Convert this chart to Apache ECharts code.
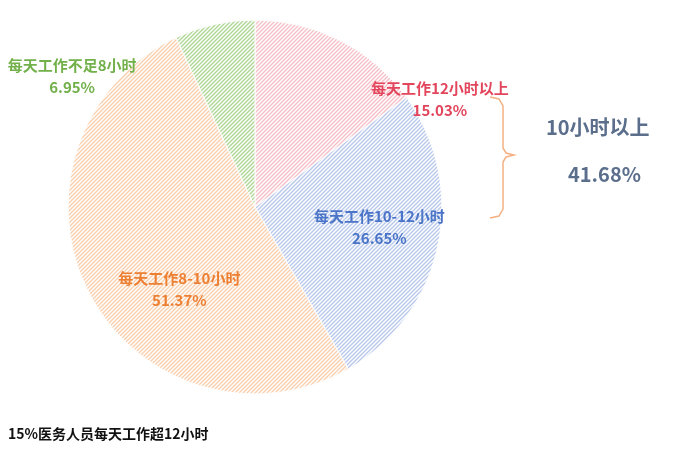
<!DOCTYPE html>
<html><head><meta charset="utf-8">
<script src="https://cdn.jsdelivr.net/npm/echarts@6/dist/echarts.min.js"></script>
<style>html,body{margin:0;background:#fff}#c{width:698px;height:457px}</style>
</head><body><div id="c"></div>
<script>
var names = ['每天工作12小时以上', '每天工作10-12小时', '每天工作8-10小时', '每天工作不足8小时'];
var values = [15.03, 26.65, 51.37, 6.95];
var fills = ['#f6bfc7', '#b7c8ea', '#f9cfae', '#aed795'];
var textColors = ['#e2455c', '#4a74c8', '#ec7f32', '#72b04a'];
var offsets = [[141, -22], [30, 0], [10, 38], [-162, -36]];

function stripe(color) {
  var c = document.createElement('canvas');
  c.width = 4; c.height = 4;
  var g = c.getContext('2d');
  g.fillStyle = '#ffffff'; g.fillRect(0, 0, 4, 4);
  g.strokeStyle = color; g.lineWidth = 1.4;
  g.beginPath();
  g.moveTo(0, 4); g.lineTo(4, 0);
  g.moveTo(-1, 1); g.lineTo(1, -1);
  g.moveTo(3, 5); g.lineTo(5, 3);
  g.stroke();
  return { image: c, repeat: 'repeat' };
}

var myChart = echarts.init(document.getElementById('c'));
var option = {
  backgroundColor: '#fff',
  series: [{
    type: 'pie',
    center: [255, 207],
    radius: [0, 187],
    startAngle: 90,
    clockwise: true,
    silent: true,
    itemStyle: { borderColor: '#fff', borderWidth: 1 },
    label: {
      show: true, position: 'inside', fontSize: 15, fontWeight: 'bold', lineHeight: 22,
      fontFamily: 'Noto Sans CJK SC',
      formatter: function (p) { return p.name + '\n' + p.value.toFixed(2) + '%'; }
    },
    data: names.map(function (n, i) {
      return {
        name: n, value: values[i],
        itemStyle: { color: stripe(fills[i]) },
        label: { color: textColors[i], offset: offsets[i] }
      };
    })
  }],
  graphic: [
    { type: 'polyline', shape: { points: [[490,97],[499,99],[503,106],[503,148],[506,153],[514,155],[506,157],[503,162],[503,209],[499,216],[490,218]] },
      style: { stroke: '#f4b183', lineWidth: 1.5, fill: null } },
    { type: 'text', left: 546, top: 117, style: { text: '10小时以上', fontSize: 20, fontWeight: 'bold', fill: '#5b6f8c', fontFamily: 'Noto Sans CJK SC' } },
    { type: 'text', left: 568, top: 164, style: { text: '41.68%', fontSize: 20, fontWeight: 'bold', fill: '#5b6f8c', fontFamily: 'Noto Sans CJK SC' } },
    { type: 'text', left: 8, top: 427, style: { text: '15%医务人员每天工作超12小时', fontSize: 14, fontWeight: 'bold', fill: '#111', fontFamily: 'Noto Sans CJK SC' } }
  ]
};
myChart.setOption(option);
</script></body></html>
